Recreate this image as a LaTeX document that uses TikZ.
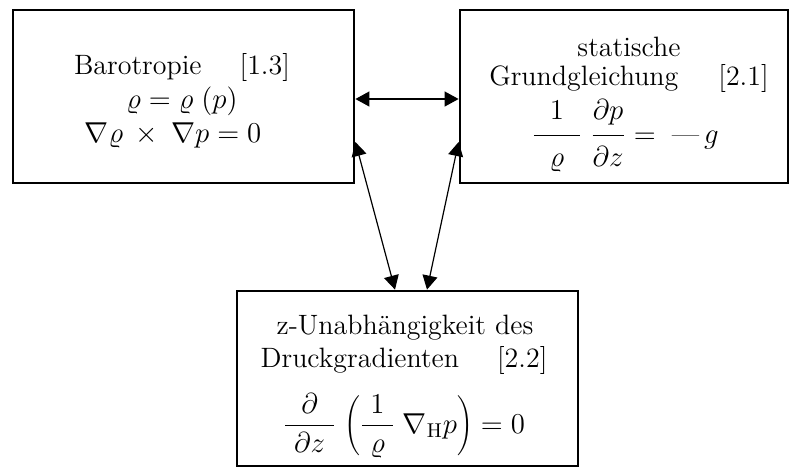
\documentclass[tikz,border=0pt]{standalone}
\usetikzlibrary{arrows.meta}
\begin{document}
\begin{tikzpicture}[x=0.5pt,y=-0.5pt,
  box/.style={draw,line width=1.4pt,inner sep=0pt},
  txt/.style={inner sep=0pt,font=\fontsize{14}{17}\selectfont},
  eq/.style={txt},
  link/.style={line width=0.6pt,
    {Triangle[length=7pt,width=7.5pt]}-{Triangle[length=7pt,width=7.5pt]}}]
\useasboundingbox (0,0) rectangle (790,468);

% the three boxes
\node[box,minimum width=170.5pt,minimum height=86.5pt] (L) at (183.5,96.5) {};
\node[box,minimum width=164pt,minimum height=86.5pt] (R) at (624,96.5) {};
\node[box,minimum width=170.5pt,minimum height=87.5pt] (B) at (407.5,378.5) {};

% Barotropie
\node[txt] (l1) at (182,67) {Barotropie\hspace{19pt}[1.3]};
\node[eq] (l2) at (182,101) {$\varrho = \varrho\;(p)$};
\node[eq] (l3) at (173,135) {$\nabla\varrho\:\times\:\nabla p = 0$};

% statische Grundgleichung
\node[txt] (r1) at (629,47) {statische};
\node[txt] (r2) at (629,78) {Grundgleichung\hspace{20pt}[2.1]};
\node[eq] (r3) at (625,136) {$\displaystyle
  \frac{\;\;\raisebox{2pt}{$1$}\;\;}{\raisebox{-2pt}{$\varrho$}}\;
  \frac{\raisebox{2pt}{$\partial p$}}{\raisebox{-2pt}{$\partial z$}}
  =\;\mbox{---}\,g$};

% z-Unabhaengigkeit des Druckgradienten
\node[txt] (b1) at (405,328) {z-Unabhängigkeit des};
\node[txt] (b2) at (404,360) {Druckgradienten\hspace{19pt}[2.2]};
\node[eq] (b3) at (404,426) {$\displaystyle
  \frac{\;\;\partial\;\;}{\partial z}\;\Biggl(\frac{\;1\;}{\varrho}\;\nabla_{\mathrm{H}}p\Biggr) = 0$};

% connectors
\draw[link] ([yshift=-1.25pt]L.east) -- ([yshift=-1.25pt]R.west);
\draw[link] ([yshift=-22.75pt]L.east) -- ([xshift=-6.25pt]B.north);
\draw[link] ([yshift=-22.75pt]R.west) -- ([xshift=9.75pt]B.north);
\end{tikzpicture}
\end{document}
